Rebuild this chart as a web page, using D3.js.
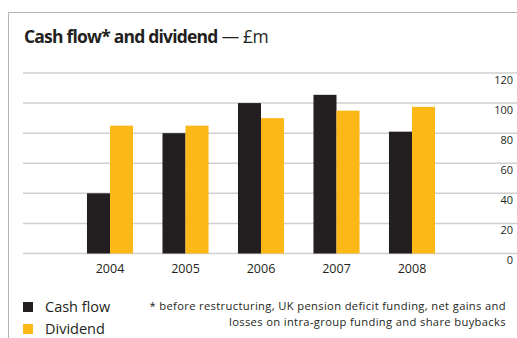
<!DOCTYPE html>
<html>
<head>
<meta charset="utf-8">
<script src="https://cdn.jsdelivr.net/npm/d3@7/dist/d3.min.js"></script>
<style>
  html, body { margin: 0; padding: 0; background: #fff; }
  svg { display: block; font-family: "Open Sans", "Noto Sans", sans-serif; }
</style>
</head>
<body>
<svg id="chart" width="517" height="338"></svg>
<script>
// Cash flow and dividend, £m
const years = ["2004", "2005", "2006", "2007", "2008"];
const cashFlow = [40, 80, 100, 105.5, 81];
const dividend = [85, 85, 90, 95, 97.5];
const seriesNames = ["Cash flow", "Dividend"];
const seriesColors = ["#231f20", "#fbb817"];
const yTicks = [0, 20, 40, 60, 80, 100, 120];
const footnote = [
  "* before restructuring, UK pension deficit funding, net gains and",
  "losses on intra-group funding and share buybacks"
];

const svg = d3.select("#chart");

// panel frame: top and left rules
svg.append("line").attr("x1", 8.5).attr("x2", 517).attr("y1", 12.5).attr("y2", 12.5)
  .attr("stroke", "#b3b3b3").attr("stroke-width", 1);
svg.append("line").attr("x1", 8.5).attr("x2", 8.5).attr("y1", 12.5).attr("y2", 338)
  .attr("stroke", "#b3b3b3").attr("stroke-width", 1);

// title
const title = svg.append("text").attr("x", 24).attr("y", 43.3)
  .attr("font-size", 17.5).attr("fill", "#231f20");
title.append("tspan").attr("font-weight", "bold").attr("letter-spacing", -0.8)
  .text("Cash flow* and dividend");
title.append("tspan").attr("font-weight", "normal").attr("letter-spacing", -0.4)
  .text(" — £m");

// scales
const x = d3.scaleBand().domain(years).range([72.25, 449.75])
  .paddingInner(0.39).paddingOuter(0.195);
const xs = d3.scaleBand().domain(seriesNames).range([0, x.bandwidth()]).padding(0);
const y = d3.scaleLinear().domain([0, 120]).range([253.5, 73]);

// gridlines
svg.append("g").selectAll("line").data(yTicks).join("line")
  .attr("x1", 23).attr("x2", 517)
  .attr("y1", d => y(d)).attr("y2", d => y(d))
  .attr("stroke", "#cfcfcf").attr("stroke-width", 1.5);

// value labels on the right
svg.append("g").selectAll("text").data(yTicks).join("text")
  .attr("x", 513).attr("y", d => y(d) + 10.5)
  .attr("text-anchor", "end").attr("font-size", 11).attr("fill", "#231f20")
  .text(d => d);

// bars
const rows = years.map((yr, i) => ({ year: yr, values: [cashFlow[i], dividend[i]] }));
const groups = svg.append("g").selectAll("g").data(rows).join("g")
  .attr("transform", d => `translate(${x(d.year)},0)`);
groups.selectAll("rect")
  .data(d => d.values.map((v, j) => ({ name: seriesNames[j], value: v, color: seriesColors[j] })))
  .join("rect")
  .attr("x", d => xs(d.name))
  .attr("width", xs.bandwidth())
  .attr("y", d => y(d.value))
  .attr("height", d => y(0) - y(d.value))
  .attr("fill", d => d.color);

// year labels
svg.append("g").selectAll("text").data(years).join("text")
  .attr("x", d => x(d) + x.bandwidth() / 2).attr("y", 272.5)
  .attr("text-anchor", "middle").attr("font-size", 12.5).attr("fill", "#231f20")
  .text(d => d);

// legend
const legend = svg.append("g").selectAll("g").data(seriesNames).join("g")
  .attr("transform", (d, i) => `translate(23,${302 + i * 22})`);
legend.append("rect").attr("width", 10).attr("height", 10)
  .attr("fill", (d, i) => seriesColors[i]);
legend.append("text").attr("x", 22).attr("y", 10)
  .attr("font-size", 14.5).attr("fill", "#231f20").text(d => d);

// footnote, two right-aligned lines
svg.append("g").selectAll("text").data(footnote).join("text")
  .attr("x", 506).attr("y", (d, i) => 310.2 + i * 15.4)
  .attr("text-anchor", "end").attr("font-size", 11.2).attr("letter-spacing", 0.35)
  .attr("fill", "#231f20")
  .text(d => d);
</script>
</body>
</html>
